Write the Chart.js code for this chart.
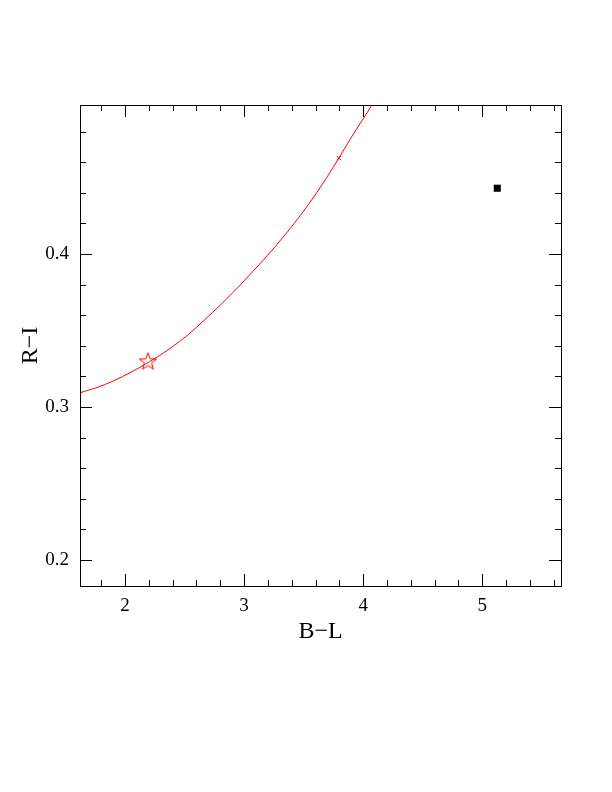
<!DOCTYPE html>
<html>
<head>
<meta charset="utf-8">
<script src="https://cdn.jsdelivr.net/npm/chart.js@4"></script>
<style>
  body { margin: 0; background: #fff; }
  canvas { display: block; }
</style>
</head>
<body>
<canvas id="grafico" width="612" height="792"></canvas>
<script>
// curva del modelo (B-L, R-I)
const trackX = [1.619, 1.829, 2.124, 2.460, 2.739, 2.964, 3.356, 3.608, 3.796, 3.888, 4.076];
const trackY = [0.3092, 0.3146, 0.3259, 0.3429, 0.3621, 0.3795, 0.4137, 0.4399, 0.4627, 0.4747, 0.4976];

// marcadores
const starPt = { x: 2.193, y: 0.3298 };
const crossPt = { x: 3.796, y: 0.4627 };
const squarePt = { x: 5.126, y: 0.443 };

// ticks
const xMajor = [2, 3, 4, 5];
const xMinor = [1.8, 2.2, 2.4, 2.6, 2.8, 3.2, 3.4, 3.6, 3.8, 4.2, 4.4, 4.6, 4.8, 5.2, 5.4, 5.6];
const yMajor = [0.2, 0.3, 0.4];
const yMinor = [0.22, 0.24, 0.26, 0.28, 0.32, 0.34, 0.36, 0.38, 0.42, 0.44, 0.46, 0.48];

// estrella abierta roja
function makeStar() {
  const c = document.createElement("canvas");
  c.width = 22; c.height = 22;
  const g = c.getContext("2d");
  g.strokeStyle = "#ff0000";
  g.lineWidth = 1;
  g.beginPath();
  for (let i = 0; i < 10; i++) {
    const r = i % 2 === 0 ? 9 : 3.8;
    const a = -Math.PI / 2 + i * Math.PI / 5;
    const px = 11 + r * Math.cos(a), py = 11.5 + r * Math.sin(a);
    if (i === 0) g.moveTo(px, py); else g.lineTo(px, py);
  }
  g.closePath();
  g.stroke();
  return c;
}

const marcoTicks = {
  id: "marcoTicks",
  afterDraw(chart) {
    const { ctx, chartArea: a, scales: { x, y } } = chart;
    ctx.save();
    ctx.strokeStyle = "#000";
    ctx.lineWidth = 1;
    ctx.strokeRect(Math.round(a.left) + 0.5, Math.round(a.top) + 0.5,
      Math.round(a.right - a.left), Math.round(a.bottom - a.top));
    ctx.beginPath();
    const tx = (v, len) => {
      const p = Math.round(x.getPixelForValue(v)) + 0.5;
      ctx.moveTo(p, a.bottom); ctx.lineTo(p, a.bottom - len);
      ctx.moveTo(p, a.top); ctx.lineTo(p, a.top + len);
    };
    const ty = (v, len) => {
      const p = Math.round(y.getPixelForValue(v)) + 0.5;
      ctx.moveTo(a.left, p); ctx.lineTo(a.left + len, p);
      ctx.moveTo(a.right, p); ctx.lineTo(a.right - len, p);
    };
    xMajor.forEach(v => tx(v, 12));
    xMinor.forEach(v => tx(v, 6));
    yMajor.forEach(v => ty(v, 12));
    yMinor.forEach(v => ty(v, 6));
    ctx.stroke();
    ctx.restore();
  }
};

const serif = "'Liberation Serif', 'DejaVu Serif', serif";

new Chart(document.getElementById("grafico").getContext("2d"), {
  type: "scatter",
  data: {
    datasets: [
      {
        type: "line",
        data: trackX.map((v, i) => ({ x: v, y: trackY[i] })),
        borderColor: "#ff0000",
        borderWidth: 1,
        pointRadius: 0,
        cubicInterpolationMode: "monotone",
        fill: false
      },
      {
        data: [starPt],
        pointStyle: makeStar(),
        pointRadius: 9
      },
      {
        data: [crossPt],
        pointStyle: "crossRot",
        pointRadius: 3,
        borderColor: "#ff0000",
        borderWidth: 1
      },
      {
        data: [squarePt],
        pointStyle: "rect",
        pointRadius: 5,
        backgroundColor: "#000",
        borderColor: "#000",
        borderWidth: 0
      }
    ]
  },
  options: {
    responsive: false,
    animation: false,
    events: [],
    layout: { padding: { left: 0, right: 51, top: 105, bottom: 0 } },
    plugins: { legend: { display: false }, tooltip: { enabled: false } },
    scales: {
      x: {
        type: "linear",
        min: 1.622,
        max: 5.661,
        grid: { display: false, drawTicks: false },
        border: { display: false },
        afterBuildTicks: s => { s.ticks = xMajor.map(v => ({ value: v })); },
        afterFit: s => { s.height = 206; },
        ticks: {
          padding: 9,
          color: "#000",
          font: { family: serif, size: 19 },
          maxRotation: 0,
          callback: v => String(v)
        },
        title: {
          display: true,
          text: "B\u2212L",
          color: "#000",
          font: { family: serif, size: 24 },
          padding: { top: 0, bottom: 146 }
        }
      },
      y: {
        type: "linear",
        min: 0.183,
        max: 0.4974,
        grid: { display: false, drawTicks: false },
        border: { display: false },
        afterBuildTicks: s => { s.ticks = yMajor.map(v => ({ value: v })); },
        afterFit: s => { s.width = 80; },
        ticks: {
          padding: 11,
          color: "#000",
          font: { family: serif, size: 19 },
          callback: v => v.toFixed(1)
        },
        title: {
          display: true,
          text: "R\u2212I",
          color: "#000",
          font: { family: serif, size: 24 },
          padding: { top: 16, bottom: 0 }
        }
      }
    }
  },
  plugins: [marcoTicks]
});
</script>
</body>
</html>
